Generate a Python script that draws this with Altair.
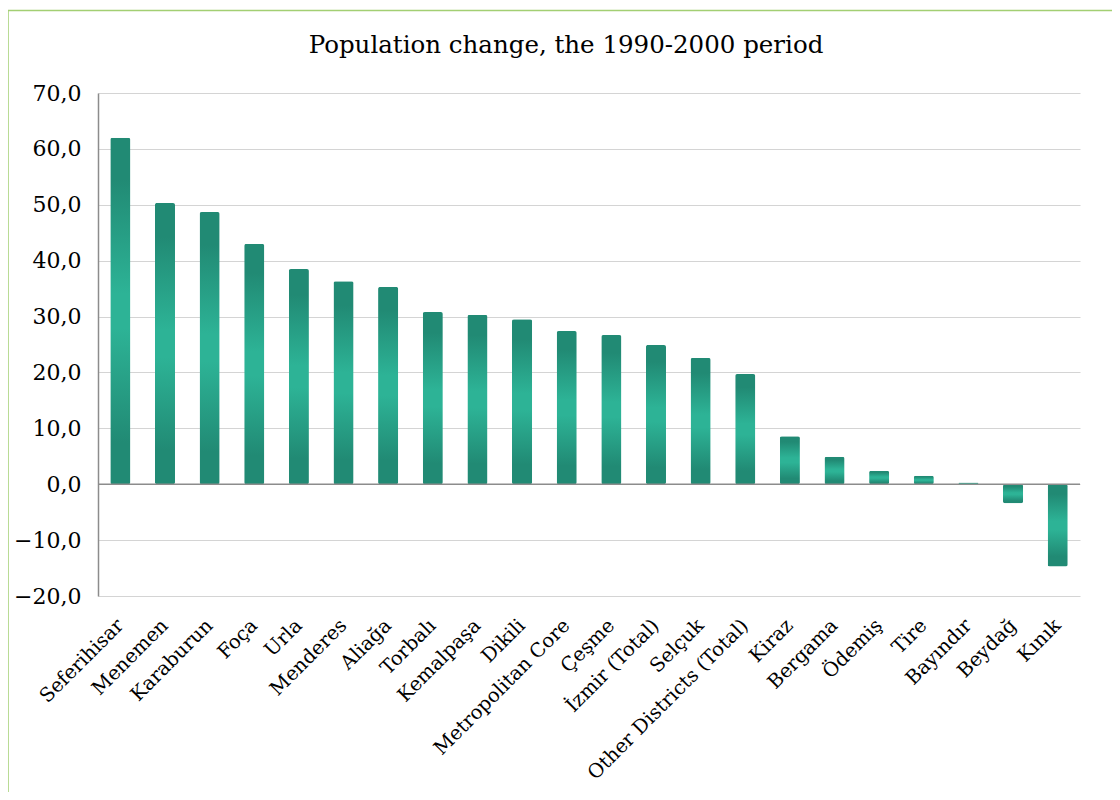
import altair as alt
import pandas as pd

districts = ["Seferihisar", "Menemen", "Karaburun", "Foça", "Urla", "Menderes",
             "Aliağa", "Torbalı", "Kemalpaşa", "Dikili", "Metropolitan Core",
             "Çeşme", "İzmir (Total)", "Selçuk", "Other Districts (Total)",
             "Kiraz", "Bergama", "Ödemiş", "Tire", "Bayındır", "Beydağ", "Kınık"]
change = [62.0, 50.3, 48.7, 43.0, 38.5, 36.3, 35.3, 30.8, 30.3, 29.5, 27.4,
          26.7, 24.9, 22.6, 19.7, 8.6, 4.9, 2.4, 1.5, 0.3, -3.4, -14.7]
title_text = ["Population change, the 1990-2000 period"]

df = pd.DataFrame({"district": districts, "change": change})

FONT = "DejaVu Serif"
DARK = "#218A74"
LIGHT = "#2DB396"

grad = alt.LinearGradient(
    gradient="linear", x1=0, y1=0, x2=0, y2=1,
    stops=[alt.GradientStop(color=DARK, offset=0),
           alt.GradientStop(color=DARK, offset=0.12),
           alt.GradientStop(color=LIGHT, offset=0.45),
           alt.GradientStop(color=LIGHT, offset=0.55),
           alt.GradientStop(color=DARK, offset=0.88),
           alt.GradientStop(color=DARK, offset=1)])

base = alt.Chart(df)

bars = base.mark_bar(color=grad, cornerRadius=2).encode(
    x=alt.X("district:N", sort=districts,
            scale=alt.Scale(paddingInner=0.55, paddingOuter=0.275),
            axis=alt.Axis(title=None, labelAngle=-45, labelAlign="right",
                          labelBaseline="middle", labelPadding=26,
                          labelFont=FONT, labelFontSize=19.5, labelColor="#000000",
                          ticks=False, domain=False, grid=False,
                          labelLimit=400)),
    y=alt.Y("change:Q",
            scale=alt.Scale(domain=[-20, 70], nice=False),
            axis=alt.Axis(title=None, values=list(range(-20, 80, 10)),
                          labelExpr="replace(format(datum.value, '.1f'), '.', ',')",
                          labelFont=FONT, labelFontSize=22, labelColor="#000000",
                          labelPadding=17, ticks=False,
                          domainColor="#8C8C8C", domainWidth=1.5,
                          gridColor="#D4D4D4", gridWidth=1.2)),
)

zero = alt.Chart(alt.Data(values=[{"v": 0}])).mark_rule(
    color="#8C8C8C", strokeWidth=1.5).encode(y="v:Q")

title = alt.Chart(alt.Data(values=[{"t": t} for t in title_text])).mark_text(
    font=FONT, fontSize=24.5, color="#000000", align="center", baseline="middle"
).encode(text="t:N", x=alt.value(468), y=alt.value(-47))

border = alt.Chart(alt.Data(values=[{}])).mark_rect(
    fill=None, stroke="#A3CF73", strokeWidth=1.5).encode(
    x=alt.value(-90.0), x2=alt.value(1100),
    y=alt.value(-82.5), y2=alt.value(800))

chart = alt.layer(bars, zero, title, border).properties(
    width=982, height=503,
    autosize=alt.AutoSizeParams(type="none"),
    padding={"left": 90, "top": 85, "right": 32, "bottom": 196},
).configure_view(stroke=None)

chart.save("out.html", embed_options={"renderer": "svg", "actions": False})
